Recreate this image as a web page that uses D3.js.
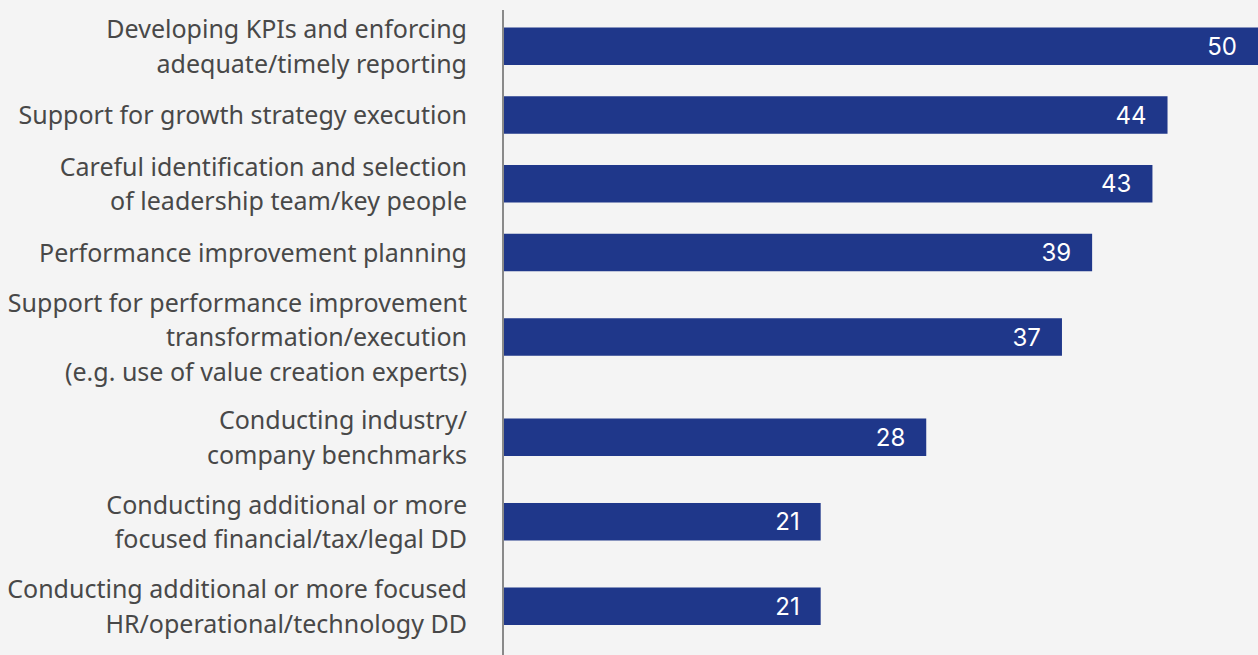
<!DOCTYPE html>
<html>
<head>
<meta charset="utf-8">
<script src="https://cdn.jsdelivr.net/npm/d3@7/dist/d3.min.js"></script>
<style>
  html, body { margin: 0; padding: 0; background: #f4f4f4; }
  svg { display: block; }
</style>
</head>
<body>
<svg id="chart" width="1258" height="655"></svg>
<script>
// Category labels, one array entry per text line
const categories = [
  ["Developing KPIs and enforcing", "adequate/timely reporting"],
  ["Support for growth strategy execution"],
  ["Careful identification and selection", "of leadership team/key people"],
  ["Performance improvement planning"],
  ["Support for performance improvement", "transformation/execution", "(e.g. use of value creation experts)"],
  ["Conducting industry/", "company benchmarks"],
  ["Conducting additional or more", "focused financial/tax/legal DD"],
  ["Conducting additional or more focused", "HR/operational/technology DD"]
];
const values = [50, 44, 43, 39, 37, 28, 21, 21];
const xDomain = [0, 50];

const W = 1258, H = 655;
const axisX = 503;
const barStart = 504;
const lineH = 34.5;      // spacing between label lines
const barH = 37.5;
const gapUnits = 0.6825; // extra space per row, in label-line units

const svg = d3.select("#chart");

svg.append("rect").attr("width", W).attr("height", H).attr("fill", "#f4f4f4");

// Each row is as tall as its label block plus a gap; rows stack top to bottom
const rows = categories.map((lines, i) => ({ lines, value: values[i] }));
let acc = 0;
rows.forEach(r => {
  const h = r.lines.length + gapUnits;
  r.mid = acc + h / 2;
  acc += h;
});

const y = d3.scaleLinear().domain([0, acc]).range([4, 4 + acc * 31.5]);
const x = d3.scaleLinear().domain(xDomain).range([barStart, W]);

// Bars
svg.append("g")
  .selectAll("rect")
  .data(rows)
  .join("rect")
  .attr("x", x(0))
  .attr("y", d => y(d.mid) - barH / 2)
  .attr("width", d => x(d.value) - x(0))
  .attr("height", barH)
  .attr("fill", "#1f378a");

// Value labels inside the bar ends
svg.append("g")
  .selectAll("text")
  .data(rows)
  .join("text")
  .attr("x", d => x(d.value) - 21)
  .attr("y", d => y(d.mid))
  .attr("dy", "0.36em")
  .attr("text-anchor", "end")
  .attr("fill", "#ffffff")
  .style("font-family", "Inter, 'Liberation Sans', sans-serif")
  .style("font-size", "24px")
  .text(d => d.value);

// Category labels, vertically centred on their bars
const lab = svg.append("g")
  .selectAll("text")
  .data(rows)
  .join("text")
  .attr("text-anchor", "end")
  .attr("fill", "#484848")
  .style("font-family", "'Noto Sans', 'Open Sans', sans-serif")
  .style("font-size", "25px");

lab.each(function (d) {
  const n = d.lines.length;
  const c = y(d.mid);
  d3.select(this).selectAll("tspan")
    .data(d.lines)
    .join("tspan")
    .attr("x", 467)
    .attr("y", (t, j) => c + (j - (n - 1) / 2) * lineH)
    .attr("dy", "0.37em")
    .text(t => t);
});

// Vertical baseline of the bars
svg.append("line")
  .attr("x1", axisX).attr("x2", axisX)
  .attr("y1", 10).attr("y2", H)
  .attr("stroke", "#666")
  .attr("stroke-width", 1.5);
</script>
</body>
</html>
